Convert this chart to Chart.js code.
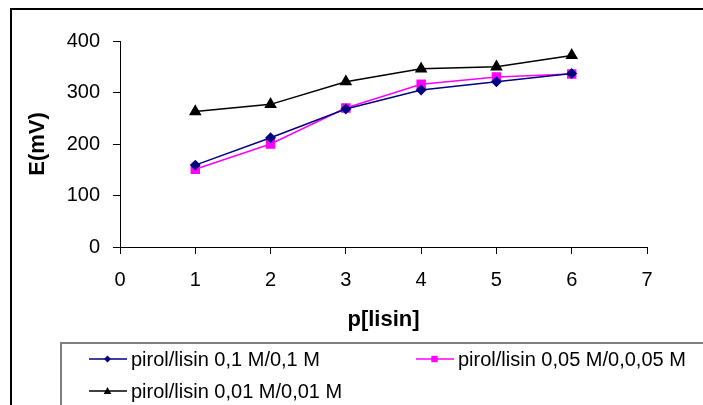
<!DOCTYPE html>
<html>
<head>
<meta charset="utf-8">
<script src="https://cdn.jsdelivr.net/npm/chart.js@4/dist/chart.umd.min.js"></script>
<style>
  html, body { margin: 0; padding: 0; background: #fff; }
  #wrap { width: 703px; height: 405px; position: relative; overflow: hidden; }
</style>
</head>
<body>
<div id="wrap"><canvas id="chart" width="703" height="405"></canvas></div>
<script>
// data
const xValues = [1, 2, 3, 4, 5, 6];
const seriesLabels = [
  'pirol/lisin 0,1 M/0,1 M',
  'pirol/lisin 0,05 M/0,0,05 M',
  'pirol/lisin 0,01 M/0,01 M'
];
const pirol01 = [159, 212, 268, 305, 321, 337];
const pirol005 = [151, 200, 270, 316, 330, 336];
const pirol001 = [263, 277, 321, 346, 350, 372];
const xTicks = [0, 1, 2, 3, 4, 5, 6, 7];
const yTicks = [0, 100, 200, 300, 400];

const FONT = "'Liberation Sans', Arial, sans-serif";

function toPoints(values) {
  return values.map((v, i) => ({ x: xValues[i], y: v }));
}

// draws a marker the same way for the legend swatches
function drawMarker(ctx, style, x, y, r, color) {
  ctx.save();
  ctx.fillStyle = color;
  ctx.beginPath();
  if (style === 'rectRot') {
    ctx.moveTo(x, y - r);
    ctx.lineTo(x + r, y);
    ctx.lineTo(x, y + r);
    ctx.lineTo(x - r, y);
  } else if (style === 'rect') {
    ctx.rect(x - r, y - r, 2 * r, 2 * r);
  } else {
    ctx.moveTo(x, y - r);
    ctx.lineTo(x + r * 0.95, y + r * 0.75);
    ctx.lineTo(x - r * 0.95, y + r * 0.75);
  }
  ctx.closePath();
  ctx.fill();
  ctx.restore();
}

const legendBox = {
  id: 'legendBox',
  afterDraw(chart) {
    const ctx = chart.ctx;
    ctx.save();
    // outer frame
    ctx.strokeStyle = '#000';
    ctx.lineWidth = 2;
    ctx.strokeRect(11, 9, 800, 500);
    // legend frame
    ctx.strokeStyle = '#808080';
    ctx.lineWidth = 2;
    ctx.strokeRect(61, 343, 800, 200);

    const slots = [
      { x: 89, y: 359 },
      { x: 416, y: 359 },
      { x: 89, y: 391 }
    ];
    const sizes = [3.5, 3.2, 4];
    ctx.font = '20px ' + FONT;
    ctx.textBaseline = 'middle';
    ctx.fillStyle = '#000';
    chart.data.datasets.forEach((ds, i) => {
      const s = slots[i];
      ctx.strokeStyle = ds.borderColor;
      ctx.lineWidth = 1.5;
      ctx.beginPath();
      ctx.moveTo(s.x, s.y);
      ctx.lineTo(s.x + 38, s.y);
      ctx.stroke();
      drawMarker(ctx, ds.pointStyle, s.x + 18.5, s.y, sizes[i], ds.pointBackgroundColor);
      ctx.fillStyle = '#000';
      ctx.fillText(ds.label, s.x + 42, s.y + 1);
    });
    ctx.restore();
  }
};

const config = {
  type: 'line',
  data: {
    datasets: [
      {
        label: seriesLabels[0],
        data: toPoints(pirol01),
        borderColor: '#000080',
        pointBackgroundColor: '#000080',
        pointBorderColor: '#000080',
        pointStyle: 'rectRot',
        pointRadius: 4.4,
        borderWidth: 1.5
      },
      {
        label: seriesLabels[1],
        data: toPoints(pirol005),
        borderColor: '#ff00ff',
        pointBackgroundColor: '#ff00ff',
        pointBorderColor: '#ff00ff',
        pointStyle: 'rect',
        pointRadius: 5.6,
        borderWidth: 1.5
      },
      {
        label: seriesLabels[2],
        data: toPoints(pirol001),
        borderColor: '#000000',
        pointBackgroundColor: '#000000',
        pointBorderColor: '#000000',
        pointStyle: 'triangle',
        pointRadius: 5.8,
        borderWidth: 1.5
      }
    ]
  },
  options: {
    responsive: false,
    animation: false,
    events: [],
    layout: { padding: { top: 41, right: 56, left: 0, bottom: 0 } },
    plugins: {
      legend: { display: false },
      tooltip: { enabled: false }
    },
    elements: { line: { tension: 0 } },
    scales: {
      x: {
        type: 'linear',
        min: 0,
        max: 7,
        afterBuildTicks: (scale) => { scale.ticks = xTicks.map(v => ({ value: v })); },
        afterFit: (scale) => { scale.height = 158; },
        ticks: {
          color: '#000',
          padding: 14,
          font: { family: FONT, size: 20 }
        },
        grid: { drawOnChartArea: false, drawTicks: true, tickLength: 7, color: '#000' },
        border: { color: '#000', width: 1 },
        title: {
          display: true,
          text: 'p[lisin]',
          color: '#000',
          font: { family: FONT, size: 22, weight: 'bold' },
          padding: { top: 0, bottom: 72 }
        }
      },
      y: {
        min: 0,
        max: 400,
        afterBuildTicks: (scale) => { scale.ticks = yTicks.map(v => ({ value: v })); },
        afterFit: (scale) => { scale.width = 120; },
        ticks: {
          color: '#000',
          padding: 13,
          font: { family: FONT, size: 20 }
        },
        grid: { drawOnChartArea: false, drawTicks: true, tickLength: 7, color: '#000' },
        border: { color: '#000', width: 1 },
        title: {
          display: true,
          text: 'E(mV)',
          color: '#000',
          font: { family: FONT, size: 22, weight: 'bold' },
          padding: { top: 25, bottom: 0 }
        }
      }
    }
  },
  plugins: [legendBox]
};

new Chart(document.getElementById('chart'), config);
</script>
</body>
</html>
